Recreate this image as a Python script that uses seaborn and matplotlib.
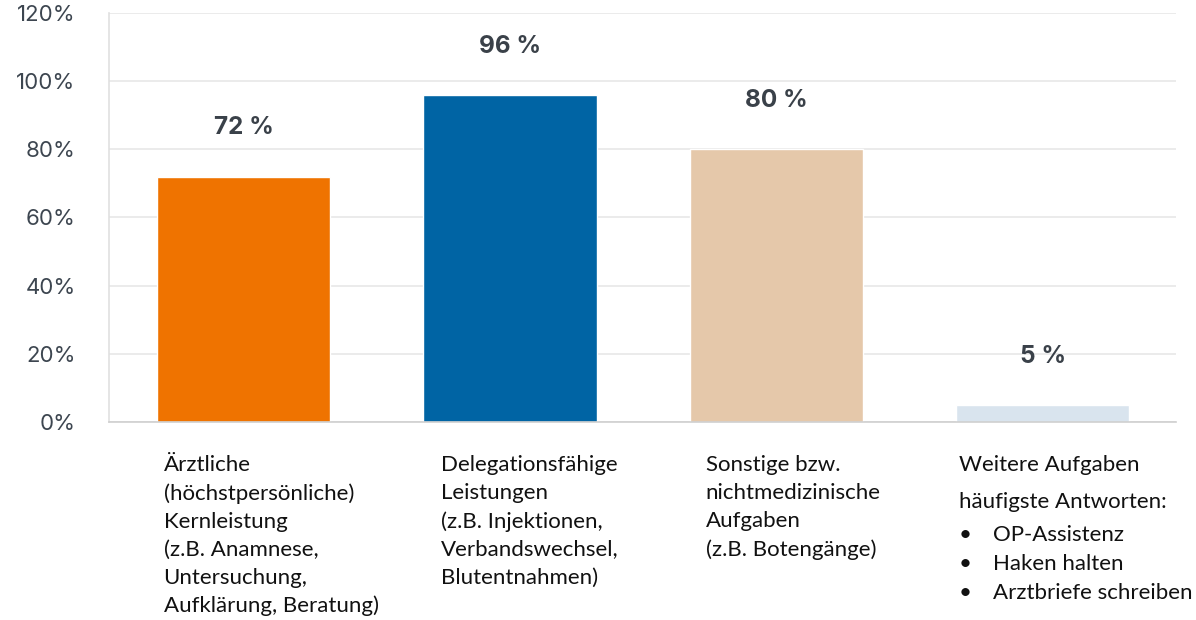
import matplotlib
matplotlib.use("Agg")
import matplotlib.pyplot as plt
import matplotlib.transforms as mtransforms
import seaborn as sns
import pandas as pd

# ---- data ----
categories = [
    "Ärztliche\n(höchstpersönliche)\nKernleistung\n(z.B. Anamnese,\nUntersuchung,\nAufklärung, Beratung)",
    "Delegationsfähige\nLeistungen\n(z.B. Injektionen,\nVerbandswechsel,\nBlutentnahmen)",
    "Sonstige bzw.\nnichtmedizinische\nAufgaben\n(z.B. Botengänge)",
    "Weitere Aufgaben",
]
values = [72, 96, 80, 5]
value_labels = ["72 %", "96 %", "80 %", "5 %"]
extra_title = "häufigste Antworten:"
extra_items = ["OP-Assistenz", "Haken halten", "Arztbriefe schreiben"]
y_ticks = [0, 20, 40, 60, 80, 100, 120]
colors = ["#EF7300", "#0064A4", "#E5C8AA", "#D9E4EE"]

sns.set_theme(style="white")
plt.rcParams["font.family"] = ["Inter", "DejaVu Sans"]

df = pd.DataFrame({"cat": [f"c{i}" for i in range(len(values))], "val": values})

fig = plt.figure(figsize=(11.96, 6.2), dpi=100)
ax = fig.add_axes([0.0911, 0.3194, 0.8922, 0.6596])

sns.barplot(data=df, x="cat", y="val", hue="cat", palette=colors,
            width=0.65, legend=False, ax=ax, saturation=1)

ax.set_ylim(0, 120)
ax.set_xlim(-0.505, 3.5)
ax.set_yticks(y_ticks)
ax.set_yticklabels([f"{t}%" for t in y_ticks], fontsize=16, color="#3D4650")
ax.tick_params(axis="y", length=0, pad=24)
ax.set_xticks([])
ax.set_xlabel("")
ax.set_ylabel("")
ax.grid(axis="y", color="#E8E8E8", linewidth=1.2)
ax.set_axisbelow(True)
for s in ["top", "right"]:
    ax.spines[s].set_visible(False)
ax.spines["left"].set_color("#E0E0E0")
ax.spines["left"].set_linewidth(1.2)
ax.spines["bottom"].set_color("#CFCFCF")
ax.spines["bottom"].set_linewidth(1.2)

# value labels
for i, (v, lab) in enumerate(zip(values, value_labels)):
    ax.annotate(lab, (i, v), xytext=(0, 35), textcoords="offset points",
                ha="center", va="center", fontsize=17.5, fontweight="bold",
                color="#3A4149")

# category labels below axis
trans = mtransforms.blended_transform_factory(ax.transData, ax.transAxes)
label_dx = [-0.30, -0.26, -0.265, -0.315]
lab_font = ["Lato", "DejaVu Sans"]
fs = 16
for i, txt in enumerate(categories):
    ax.text(i + label_dx[i], -0.08, txt, transform=trans, ha="left", va="top",
            fontsize=fs, family=lab_font, color="#111111", linespacing=1.5)

# extra answers list under last category
ax.text(3 + label_dx[3], -0.172, extra_title, transform=trans, ha="left", va="top",
        fontsize=fs, family=lab_font, color="#111111")
for k, item in enumerate(extra_items):
    yy = -0.253 - k * 0.0709
    ax.text(3 + label_dx[3], yy, "•", transform=trans, ha="left", va="top",
            fontsize=fs, family=lab_font, color="#111111")
    ax.text(3 + label_dx[3] + 0.128, yy, item, transform=trans, ha="left", va="top",
            fontsize=fs, family=lab_font, color="#111111")

fig.savefig("out.png", dpi=100)
